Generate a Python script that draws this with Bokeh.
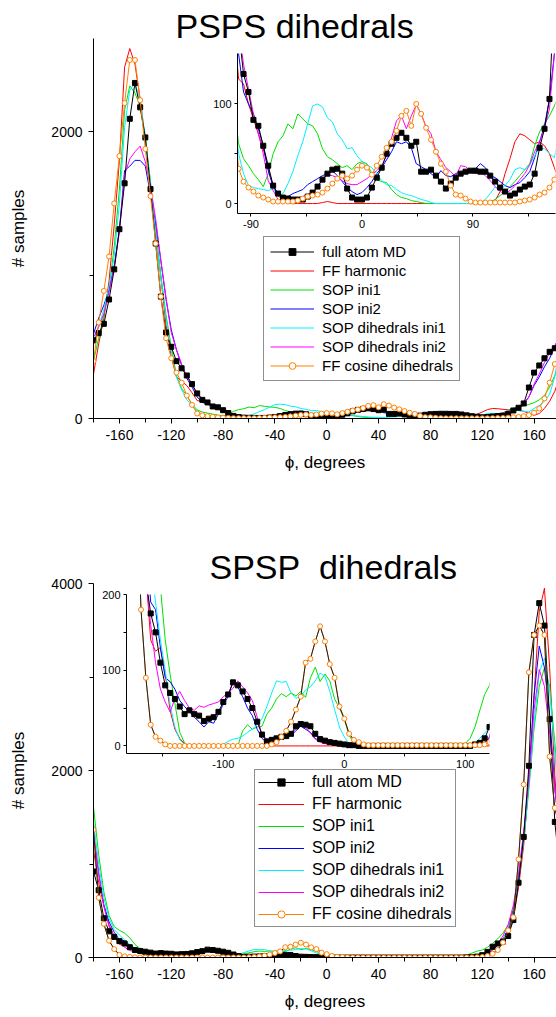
from bokeh.plotting import figure
from bokeh.layouts import column
from bokeh.models import (Range1d, FixedTicker, Legend, LegendItem, GridBox,
                          PrintfTickFormatter)
from bokeh.embed import file_html
from bokeh.resources import INLINE

FONT = "Liberation Sans"

# bin centres (degrees)
phi = list(range(-180, 181, 4))

# ---------------- PSPS dihedrals ----------------
psps_md = [
    545, 595, 660, 830, 1040, 1320, 1640, 2090, 2340, 2170,
    1960, 1600, 1220, 850, 600, 500, 400, 350, 300, 240,
    175, 130, 112, 84, 78, 58, 38, 18, 10, 6,
    5, 4, 4, 4, 7, 11, 17, 24, 30, 34,
    35, 30, 15, 6, 4, 4, 6, 16, 26, 36,
    50, 60, 66, 71, 66, 58, 62, 32, 32, 34,
    28, 22, 15, 20, 26, 30, 32, 33, 33, 32,
    32, 28, 22, 16, 12, 8, 10, 14, 17, 19,
    30, 56, 75, 105, 216, 320, 370, 420, 465, 490,
    545]
psps_harm = [
    310, 520, 700, 960, 1350, 1800, 2450, 2580, 2470, 2230,
    1940, 1620, 1300, 980, 650, 430, 290, 260, 230, 180,
    125, 120, 100, 85, 70, 55, 35, 18, 8, 3,
    1, 0, 0, 0, 0, 0, 0, 1, 2, 1,
    0, 0, 0, 0, 0, 0, 0, 0, 0, 0,
    0, 0, 0, 0, 0, 0, 0, 0, 0, 0,
    0, 0, 0, 0, 0, 0, 0, 0, 0, 0,
    0, 0, 3, 12, 30, 45, 62, 70, 68, 64,
    60, 62, 58, 50, 36, 22, 35, 70, 120, 190,
    300]
psps_sop1 = [
    400, 560, 720, 900, 1200, 1600, 2150, 2320, 2270, 2180,
    1960, 1650, 1300, 1000, 720, 500, 300, 210, 160, 100,
    60, 45, 38, 30, 24, 17, 30, 50, 62, 68,
    80, 75, 90, 85, 80, 78, 70, 55, 47, 44,
    40, 36, 38, 34, 40, 42, 40, 30, 24, 22,
    21, 14, 9, 6, 5, 3, 2, 1, 0, 0,
    0, 0, 0, 0, 0, 0, 0, 0, 0, 0,
    0, 2, 4, 8, 12, 17, 22, 28, 34, 40,
    58, 72, 80, 88, 98, 110, 130, 160, 220, 300,
    400]
psps_sop2 = [
    590, 700, 790, 900, 1060, 1320, 1730, 1760, 1800, 1800,
    1760, 1560, 1360, 1100, 830, 620, 480, 370, 280, 220,
    150, 112, 100, 90, 75, 58, 33, 17, 9, 7,
    7, 10, 12, 14, 19, 22, 25, 28, 30, 33,
    28, 22, 16, 12, 9, 11, 16, 22, 30, 36,
    44, 52, 62, 60, 62, 56, 40, 37, 34, 30,
    26, 33, 28, 27, 30, 32, 33, 33, 35, 40,
    36, 28, 26, 22, 18, 16, 19, 21, 26, 32,
    46, 62, 78, 105, 150, 230, 290, 360, 420, 500,
    590]
psps_dih1 = [
    520, 640, 760, 920, 1130, 1500, 2030, 2290, 2340, 2220,
    1960, 1640, 1290, 980, 700, 470, 290, 200, 130, 90,
    50, 30, 18, 16, 15, 14, 13, 15, 8, 10,
    20, 32, 48, 62, 80, 98, 100, 97, 86, 82,
    70, 64, 55, 56, 48, 42, 39, 36, 30, 23,
    19, 18, 14, 11, 9, 8, 6, 4, 3, 1,
    0, 0, 0, 0, 0, 0, 0, 0, 0, 0,
    4, 10, 17, 14, 18, 24, 34, 36, 34, 39,
    48, 56, 55, 50, 46, 70, 90, 120, 170, 290,
    520]
psps_dih2 = [
    566, 640, 730, 880, 1060, 1300, 1700, 1810, 1860, 1900,
    1790, 1620, 1390, 1100, 840, 600, 480, 380, 290, 230,
    175, 140, 115, 90, 70, 50, 23, 13, 4, 2,
    2, 3, 3, 7, 9, 11, 16, 25, 29, 28,
    26, 23, 20, 19, 19, 22, 25, 29, 33, 38,
    48, 66, 83, 88, 75, 88, 99, 90, 77, 70,
    52, 44, 36, 32, 27, 38, 37, 33, 30, 32,
    28, 23, 17, 12, 10, 13, 18, 24, 30, 39,
    52, 62, 76, 95, 150, 240, 310, 390, 460, 510,
    566]
psps_cos = [
    400, 670, 890, 1130, 1500, 1830, 2200, 2500, 2500, 2220,
    1880, 1550, 1220, 850, 560, 420, 320, 250, 160, 95,
    35, 22, 16, 12, 8, 6, 4, 2, 2, 2,
    2, 2, 3, 5, 7, 8, 9, 11, 15, 20,
    25, 28, 25, 28, 34, 38, 36, 29, 38, 47,
    56, 62, 73, 88, 93, 78, 100, 90, 76, 64,
    52, 40, 32, 18, 9, 8, 5, 2, 1, 1,
    1, 1, 1, 1, 1, 1, 1, 2, 3, 4,
    6, 9, 11, 16, 24, 40, 70, 140, 250, 380,
    420]

# ---------------- SPSP dihedrals ----------------
spsp_md = [
    920, 720, 420, 280, 220, 175, 150, 110, 80, 70,
    62, 52, 42, 47, 42, 40, 33, 36, 38, 45,
    58, 68, 84, 80, 72, 62, 50, 32, 15, 6,
    8, 10, 12, 13, 16, 26, 29, 28, 26, 16,
    9, 7, 5, 4, 3, 2, 1, 1, 0, 0,
    0, 0, 0, 0, 0, 0, 0, 0, 0, 0,
    0, 0, 0, 0, 0, 0, 0, 0, 0, 0,
    0, 0, 2, 4, 10, 25, 60, 115, 150, 170,
    230, 400, 800, 1290, 2050, 3450, 3790, 3550, 2550, 1450,
    920]
spsp_harm = [
    1150, 800, 550, 350, 230, 140, 125, 130, 95, 47,
    22, 10, 3, 0, 0, 0, 0, 0, 0, 0,
    0, 0, 0, 0, 0, 0, 0, 0, 0, 0,
    0, 0, 0, 0, 0, 0, 0, 0, 0, 0,
    0, 0, 0, 0, 0, 0, 0, 0, 0, 0,
    0, 0, 0, 0, 0, 0, 0, 0, 0, 0,
    0, 0, 0, 0, 0, 0, 0, 0, 0, 0,
    0, 0, 0, 0, 0, 0, 10, 40, 90, 150,
    250, 420, 750, 1200, 1900, 2800, 3700, 3950, 3100, 1950,
    1150]
spsp_sop1 = [
    1610, 1100, 700, 450, 330, 290, 260, 210, 140, 95,
    56, 18, 4, 0, 0, 0, 0, 0, 0, 0,
    0, 0, 0, 0, 20, 28, 22, 25, 26, 42,
    50, 62, 69, 65, 70, 66, 72, 64, 90, 104,
    85, 95, 86, 62, 50, 35, 14, 3, 0, 0,
    0, 0, 0, 0, 0, 0, 0, 0, 0, 0,
    0, 0, 0, 0, 0, 0, 0, 0, 0, 0,
    3, 10, 25, 47, 68, 80, 110, 150, 200, 260,
    350, 520, 850, 1250, 1800, 2450, 2900, 3100, 2900, 2300,
    1610]
spsp_sop2 = [
    1300, 900, 560, 380, 270, 190, 180, 130, 90, 85,
    75, 60, 52, 45, 38, 32, 25, 32, 30, 42,
    55, 65, 85, 78, 65, 50, 40, 22, 10, 4,
    3, 6, 10, 12, 14, 20, 26, 22, 18, 10,
    6, 4, 3, 2, 1, 0, 0, 0, 0, 0,
    0, 0, 0, 0, 0, 0, 0, 0, 0, 0,
    0, 0, 0, 0, 0, 0, 0, 0, 0, 0,
    0, 0, 0, 2, 4, 12, 40, 80, 130, 200,
    300, 500, 850, 1300, 1900, 2800, 3330, 3100, 2600, 1800,
    1300]
spsp_dih1 = [
    1450, 1000, 640, 420, 300, 240, 190, 140, 100, 55,
    25, 8, 2, 0, 0, 0, 0, 0, 0, 0,
    2, 6, 9, 10, 13, 18, 22, 28, 36, 52,
    70, 86, 84, 85, 70, 63, 65, 74, 78, 86,
    96, 92, 72, 48, 25, 12, 3, 0, 0, 0,
    0, 0, 0, 0, 0, 0, 0, 0, 0, 0,
    0, 0, 0, 0, 0, 0, 0, 0, 0, 0,
    0, 0, 4, 10, 17, 24, 50, 90, 140, 200,
    290, 480, 820, 1250, 1850, 2500, 3050, 3200, 2850, 2200,
    1450]
spsp_dih2 = [
    1350, 900, 550, 330, 220, 160, 110, 75, 58, 45,
    62, 72, 60, 50, 47, 53, 51, 54, 56, 58,
    65, 70, 76, 86, 78, 70, 60, 38, 15, 9,
    7, 8, 11, 14, 18, 22, 27, 24, 17, 9,
    5, 3, 2, 1, 0, 0, 0, 0, 0, 0,
    0, 0, 0, 0, 0, 0, 0, 0, 0, 0,
    0, 0, 0, 0, 0, 0, 0, 0, 0, 0,
    0, 0, 0, 0, 3, 10, 45, 90, 150, 230,
    350, 560, 900, 1350, 1900, 2650, 3080, 2900, 2400, 1800,
    1350]
spsp_cos = [
    1365, 640, 360, 180, 90, 28, 12, 7, 2, 0,
    0, 0, 0, 0, 0, 0, 0, 0, 0, 0,
    0, 0, 0, 0, 0, 0, 0, 0, 0, 0,
    2, 5, 12, 20, 32, 48, 65, 110, 115, 138,
    158, 138, 108, 90, 52, 36, 16, 8, 5, 2,
    1, 1, 1, 1, 1, 1, 1, 1, 1, 1,
    1, 1, 1, 1, 1, 1, 1, 1, 1, 1,
    1, 1, 1, 1, 2, 5, 15, 40, 80, 160,
    290, 430, 1050, 1850, 3050, 3450, 3550, 3450, 2150, 1600,
    1365]

series_names = ["full atom MD", "FF harmonic", "SOP ini1", "SOP ini2",
                "SOP dihedrals ini1", "SOP dihedrals ini2", "FF cosine dihedrals"]

# ticks
main_x_ticks = [-160, -120, -80, -40, 0, 40, 80, 120, 160]
main_x_minor = [-180, -140, -100, -60, -20, 20, 60, 100, 140, 180]
psps_y_ticks = [0, 2000]
psps_y_minor = [1000]
spsp_y_ticks = [0, 2000, 4000]
spsp_y_minor = [1000, 3000]
psps_in_x_ticks = [-90, 0, 90]
psps_in_x_minor = [-45, 45, 135]
psps_in_y_ticks = [0, 100]
psps_in_y_minor = [50]
spsp_in_x_ticks = [-100, 0, 100]
spsp_in_x_minor = [-150, -50, 50]
spsp_in_y_ticks = [0, 100, 200]
spsp_in_y_minor = [50, 150]

RED, GREEN, BLUE = "#ff0000", "#00e000", "#0000ff"
CYAN, MAGENTA, ORANGE = "#00f0ff", "#ff00ff", "#ff8000"
DARK = "#222222"

W = 556


def style(p, xt, xm, yt, ym, tick_size, maj, mnr, standoff):
    p.xaxis.ticker = FixedTicker(ticks=xt, minor_ticks=xm)
    p.yaxis.ticker = FixedTicker(ticks=yt, minor_ticks=ym)
    for ax in p.axis:
        ax.formatter = PrintfTickFormatter(format="%d")
        ax.axis_line_color = "black"
        ax.axis_line_width = 1
        ax.major_tick_line_color = "black"
        ax.minor_tick_line_color = "black"
        ax.major_tick_in = 0
        ax.major_tick_out = maj
        ax.minor_tick_in = 0
        ax.minor_tick_out = mnr
        ax.major_label_text_font = FONT
        ax.major_label_text_font_size = tick_size
        ax.major_label_text_color = "black"
        ax.major_label_standoff = standoff
    p.grid.visible = False


def draw(p, md, harm, s1, s2, d1, d2, cos, dark_cos_line):
    r_h = p.line(phi, harm, line_color=RED, line_width=1)
    r_s1 = p.line(phi, s1, line_color=GREEN, line_width=1)
    r_s2 = p.line(phi, s2, line_color=BLUE, line_width=1)
    r_d1 = p.line(phi, d1, line_color=CYAN, line_width=1)
    r_d2 = p.line(phi, d2, line_color=MAGENTA, line_width=1)
    r_ml = p.line(phi, md, line_color="black", line_width=1)
    r_mm = p.scatter(phi, md, marker="square", size=5, fill_color="black", line_color="black")
    r_cl = p.line(phi, cos, line_color=ORANGE, line_width=1)
    if dark_cos_line:
        p.line(phi, cos, line_color=DARK, line_width=1)
    r_cm = p.scatter(phi, cos, marker="circle", size=5, fill_color="white",
                     line_color=ORANGE, line_width=1)
    return [[r_ml, r_mm], [r_h], [r_s1], [r_s2], [r_d1], [r_d2], [r_cl, r_cm]]


def main_fig(h, top, frame_h, ymax, yt, ym, title, title_offset, title_standoff):
    p = figure(width=W, height=h, x_range=Range1d(-180, 177.3), y_range=Range1d(0, ymax),
               min_border_left=93, min_border_right=0, min_border_top=top,
               min_border_bottom=h - top - frame_h, output_backend="svg",
               toolbar_location=None, outline_line_color=None,
               background_fill_color="white", border_fill_color="white")
    style(p, main_x_ticks, main_x_minor, yt, ym, "14px", 5, 4, 6)
    p.xaxis.axis_label = "\u03d5, degrees"
    p.yaxis.axis_label = "# samples"
    for ax in p.axis:
        ax.axis_label_text_font = FONT
        ax.axis_label_text_font_size = "17px"
        ax.axis_label_text_font_style = "normal"
        ax.axis_label_text_color = "black"
    p.xaxis.axis_label_standoff = 10
    p.yaxis.axis_label_standoff = 20
    p.title.text = title
    p.title.align = "left"
    p.title.offset = title_offset
    p.title.standoff = title_standoff
    p.title.text_font = FONT
    p.title.text_font_size = "34px"
    p.title.text_font_style = "normal"
    p.title.text_color = "black"
    return p


def inset_fig(h, xr, yr, left, right, top, frame_h, xt, xm, yt, ym):
    q = figure(width=W, height=h, x_range=Range1d(*xr), y_range=Range1d(*yr),
               min_border_left=left, min_border_right=right, min_border_top=top,
               min_border_bottom=h - top - frame_h, output_backend="svg",
               toolbar_location=None, outline_line_color=None,
               background_fill_alpha=0, border_fill_alpha=0)
    style(q, xt, xm, yt, ym, "11px", 3, 3, 3)
    return q


def legend(p, groups, loc, font, row_h, spacing, padding, gw, stand):
    items = [LegendItem(label=n, renderers=g) for n, g in zip(series_names, groups)]
    leg = Legend(items=items, location=loc, label_text_font=FONT,
                 label_text_font_size=font, label_text_color="black",
                 glyph_width=gw, glyph_height=row_h, label_height=row_h,
                 label_standoff=stand, spacing=spacing, padding=padding, margin=0,
                 border_line_color=DARK, border_line_width=1,
                 background_fill_color="white", background_fill_alpha=1)
    p.add_layout(leg)


H1, H2 = 511, 504

# ---- panel 1 ----
m1 = main_fig(H1, 38, 380, 2650, psps_y_ticks, psps_y_minor, "PSPS dihedrals", 82, -12)
g1 = draw(m1, psps_md, psps_harm, psps_sop1, psps_sop2, psps_dih1, psps_dih2, psps_cos, False)
legend(m1, g1, (170, 37), "15px", 17, 2, 6, 44, 8)

i1 = inset_fig(H1, (-100.9, 156.9), (-10, 150.6), 237, 1, 53, 160,
               psps_in_x_ticks, psps_in_x_minor, psps_in_y_ticks, psps_in_y_minor)
draw(i1, psps_md, psps_harm, psps_sop1, psps_sop2, psps_dih1, psps_dih2, psps_cos, False)

# ---- panel 2 ----
m2 = main_fig(H2, 72, 374, 4000, spsp_y_ticks, spsp_y_minor,
              "SPSP\u00a0\u00a0dihedrals", 116, -5)
g2 = draw(m2, spsp_md, spsp_harm, spsp_sop1, spsp_sop2, spsp_dih1, spsp_dih2, spsp_cos, True)
legend(m2, g2, (161, 30), "16px", 18, 4, 3, 46, 8)

i2 = inset_fig(H2, (-180, 120), (-10, 200), 126, 67, 83, 159,
               spsp_in_x_ticks, spsp_in_x_minor, spsp_in_y_ticks, spsp_in_y_minor)
draw(i2, spsp_md, spsp_harm, spsp_sop1, spsp_sop2, spsp_dih1, spsp_dih2, spsp_cos, True)

grid = GridBox(children=[(column(m1), 0, 0), (column(i1), 0, 0),
                         (column(m2), 1, 0), (column(i2), 1, 0)], spacing=0)

open("out.html", "w").write(file_html(grid, INLINE))
